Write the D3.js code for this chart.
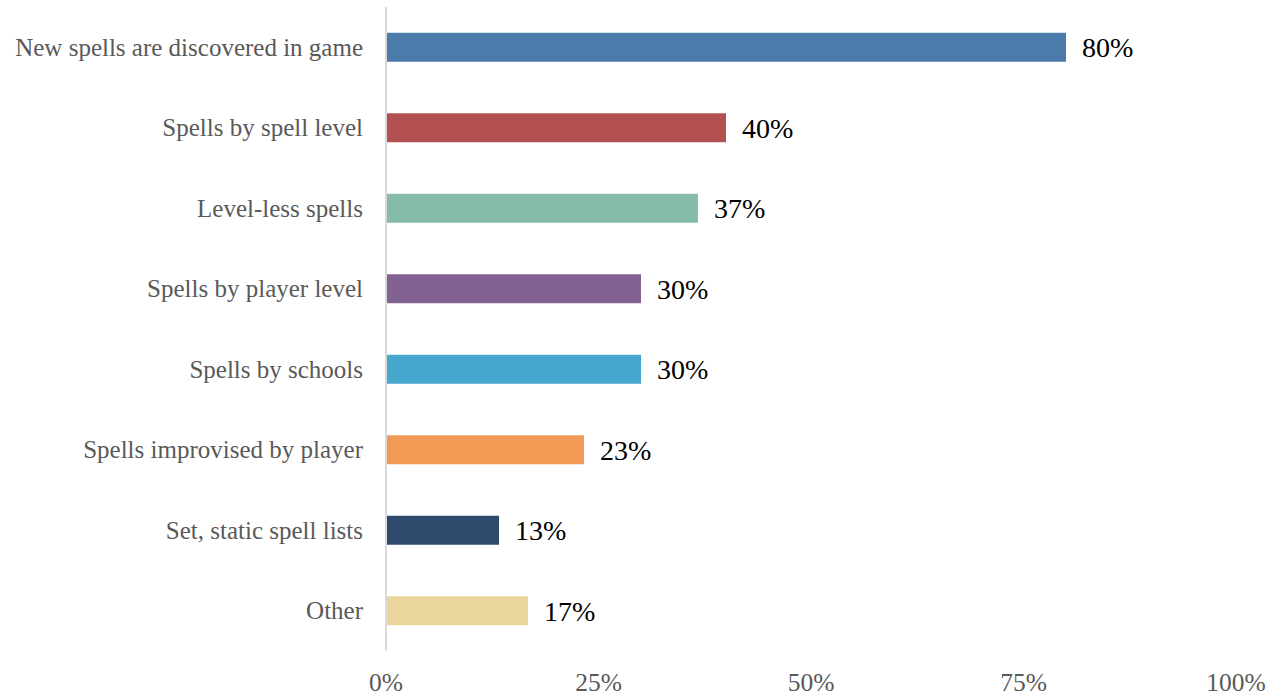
<!DOCTYPE html>
<html><head><meta charset="utf-8">
<script src="https://cdn.jsdelivr.net/npm/d3@7"></script>
<style>body{margin:0;background:#fff}svg{display:block}</style>
</head><body>
<svg id="c" width="1280" height="698"></svg>
<script>
const categories = ["New spells are discovered in game","Spells by spell level","Level-less spells","Spells by player level","Spells by schools","Spells improvised by player","Set, static spell lists","Other"];
const values = [80,40,36.7,30,30,23.3,13.3,16.7];
const colors = ["#4A7BAB","#B35152","#86BBA8","#826193","#46A7CE","#F29A55","#2E4A6B","#EAD69C"];
const ticks = [0,25,50,75,100];

const svg = d3.select("#c");
const font = "'Liberation Serif', 'DejaVu Serif', serif";
const x = d3.scaleLinear().domain([0,100]).range([386,1236]);
const y = d3.scaleBand().domain(categories).range([7,651]).paddingInner(0.64).paddingOuter(0.32);

svg.selectAll("rect.bar").data(values).join("rect")
  .attr("x", x(0)).attr("y",(d,i)=>y(categories[i]))
  .attr("width", d=>x(d)-x(0)).attr("height", y.bandwidth())
  .attr("fill",(d,i)=>colors[i]);

svg.append("line").attr("x1",x(0)).attr("x2",x(0)).attr("y1",7).attr("y2",651)
  .attr("stroke","#d9d9d9").attr("stroke-width",2);

svg.selectAll("text.cat").data(categories).join("text")
  .attr("x",363).attr("y",d=>y(d)+y.bandwidth()/2).attr("dy","0.33em")
  .attr("text-anchor","end").attr("fill","#595959")
  .style("font-family",font).style("font-size","25px").text(d=>d);

svg.selectAll("text.val").data(values).join("text")
  .attr("x",d=>x(d)+16).attr("y",(d,i)=>y(categories[i])+y.bandwidth()/2).attr("dy","0.36em")
  .attr("fill","#000").style("font-family",font).style("font-size","28px").text(d=>Math.round(d)+"%");

svg.selectAll("text.tick").data(ticks).join("text")
  .attr("x",d=>x(d)).attr("y",691).attr("text-anchor","middle")
  .attr("fill","#595959").style("font-family",font).style("font-size","25.5px").text(d=>d+"%");
</script>
</body></html>
